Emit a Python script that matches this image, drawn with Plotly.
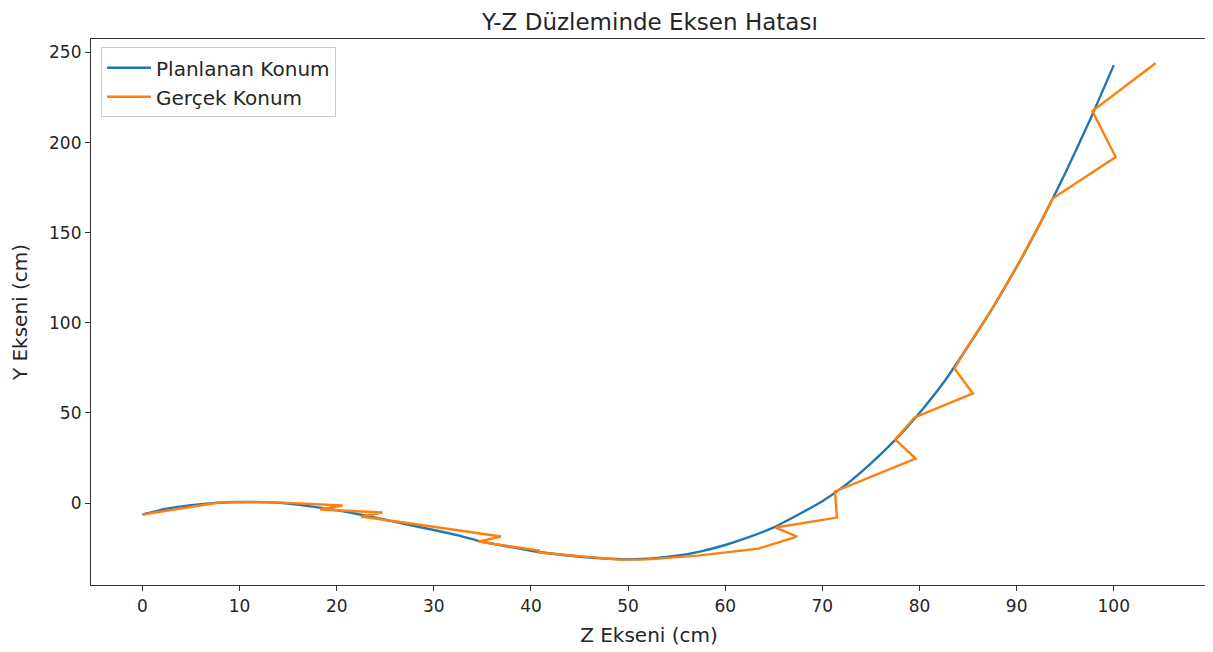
import plotly.graph_objects as go

# Planned trajectory (Planlanan Konum)
plan_z = [0, 2.5, 5, 7.5, 10, 12.5, 15, 17.5, 20, 22.5, 25, 27.5, 30, 32.5, 35, 37.5,
          40, 42.5, 45, 47.5, 50, 52.5, 55, 57.5, 60, 62.5, 65, 67.5, 70, 72.5, 75,
          77.5, 80, 82.5, 85, 87.5, 90, 92.5, 95, 97.5, 100]
plan_y = [-6.3, -3.2, -1.2, 0.1, 0.6, 0.5, -0.3, -2.0, -4.0, -6.5, -9.3, -12.2, -15.0,
          -18.0, -21.5, -24.0, -26.5, -28.3, -29.8, -30.8, -31.2, -30.8, -29.3, -26.8,
          -23.3, -18.8, -13.5, -6.5, 1.0, 10.5, 22.0, 35.0, 50.0, 67.0, 87.0, 108.0,
          131.0, 156.0, 183.0, 212.0, 243.0]

# Actual trajectory (Gerçek Konum)
real_z = [0, 7.9, 10, 12.5, 14.4, 20.6, 18.3, 24.7, 22.5, 30.5, 36.9, 34.6, 40.8, 40.8,
          49.0, 52.0, 57.2, 63.4, 67.4, 65.2, 71.5, 71.3, 79.6, 77.5, 79.5, 85.5, 83.6,
          85, 87.5, 90, 92.5, 93.7, 100.2, 97.8, 104.3]
real_y = [-6.4, 0.3, 0.5, 0.4, 0.2, -1.4, -3.6, -5.3, -7.5, -13.6, -18.6, -21.4, -26.4,
          -27.5, -31.4, -31.3, -29.2, -25.3, -18.6, -13.6, -8.1, 6.4, 24.7, 35.3, 47.5,
          60.8, 74.7, 87.0, 108.0, 131.0, 156.0, 169.0, 192.0, 217.5, 244.0]

x_ticks = [0, 10, 20, 30, 40, 50, 60, 70, 80, 90, 100]
y_ticks = [0, 50, 100, 150, 200, 250]

font_family = "DejaVu Sans"
txt = "#262626"

fig = go.Figure()
fig.add_trace(go.Scatter(x=plan_z, y=plan_y, mode="lines", name="Planlanan Konum",
                         line=dict(color="#1f77b4", width=2.4, shape="spline", smoothing=0.6)))
fig.add_trace(go.Scatter(x=real_z, y=real_y, mode="lines", name="Gerçek Konum",
                         line=dict(color="#ff7f0e", width=2.4)))

axis_common = dict(showline=True, linecolor="#333", linewidth=1.2, mirror=True,
                   ticks="outside", ticklen=5, tickcolor="#333", showgrid=False,
                   zeroline=False, automargin=False,
                   tickfont=dict(size=17, color=txt, family=font_family))

fig.update_layout(
    width=1213, height=652,
    margin=dict(l=83, r=14, t=31, b=75),
    paper_bgcolor="white", plot_bgcolor="white",
    font=dict(family=font_family, color=txt),
    annotations=[dict(text="Y-Z Düzleminde Eksen Hatası", xref="paper", yref="paper",
                      x=0.5, y=1, xanchor="center", yanchor="middle", yshift=17,
                      showarrow=False, borderpad=0,
                      font=dict(size=23, color=txt, family=font_family))],
    xaxis=dict(range=[-5.3, 109.6], tickvals=x_ticks,
               title=dict(text="Z Ekseni (cm)", font=dict(size=20, color=txt), standoff=13),
               **axis_common),
    yaxis=dict(range=[-45.5, 257.5], tickvals=y_ticks,
               title=dict(text="Y Ekseni (cm)", font=dict(size=20, color=txt), standoff=16),
               **axis_common),
    legend=dict(x=0.009, y=0.985, xanchor="left", yanchor="top",
                bgcolor="white", bordercolor="#cccccc", borderwidth=1,
                font=dict(size=20, color=txt, family=font_family),
                itemwidth=44, tracegroupgap=2),
    showlegend=True,
)

fig.write_html("out.html")
